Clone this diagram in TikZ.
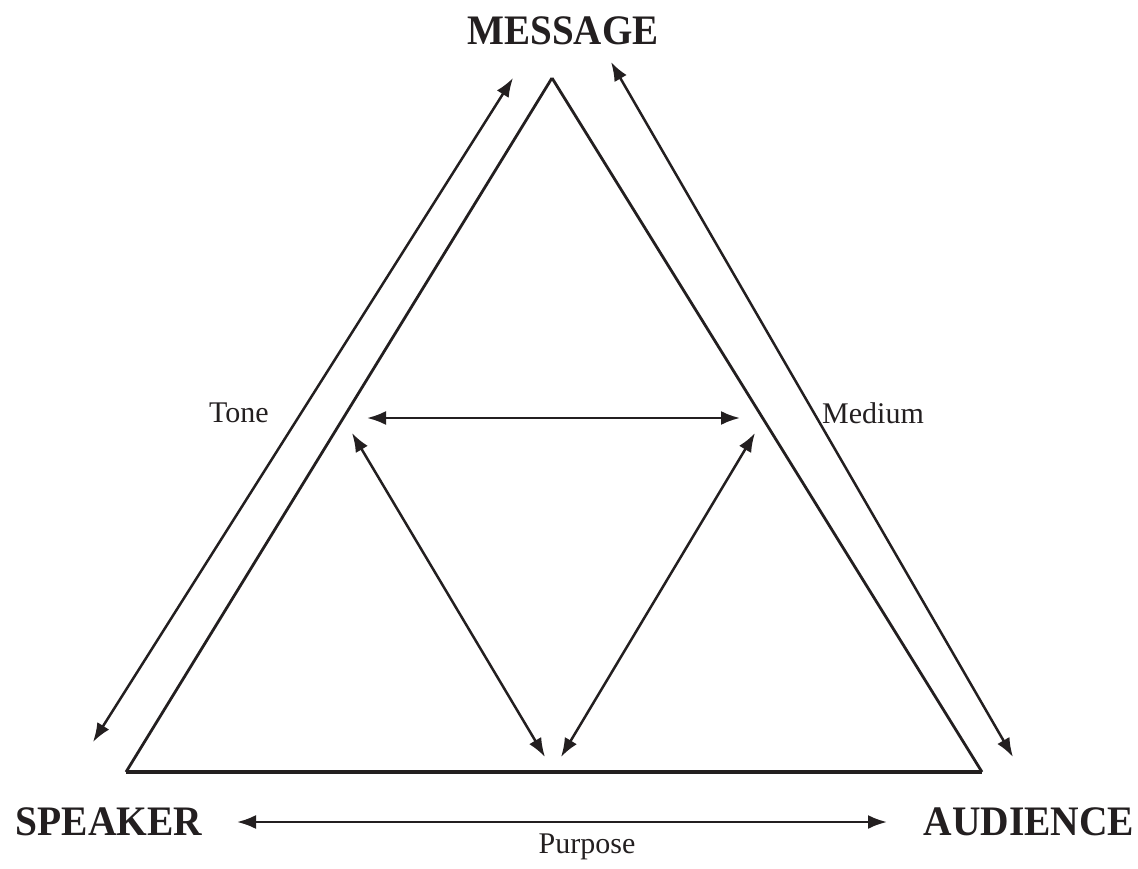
\documentclass[tikz,border=0pt]{standalone}
\usepackage{fontspec}
\setmainfont{Liberation Serif}
\usetikzlibrary{arrows.meta}
\definecolor{ink}{HTML}{231F20}
\begin{document}
\begin{tikzpicture}[x=1pt,y=-1pt,
  tri/.style={draw=ink,line width=2.8pt,line join=miter},
  dbl/.style={draw=ink,line width=2.5pt,{Latex[length=19pt,width=14pt]}-{Latex[length=19pt,width=14pt]}},
  big/.style={text=ink,inner sep=0pt,anchor=base,font=\bfseries\fontsize{42}{48}\selectfont},
  lbl/.style={text=ink,inner sep=0pt,anchor=base,font=\fontsize{30}{36}\selectfont}]
\useasboundingbox (0,0) rectangle (1138,869);
% triangle corners
\coordinate (A) at (552,78);
\coordinate (B) at (126,772);
\coordinate (C) at (982,772);
\draw[tri] (A) -- (B);
\draw[tri] (A) -- (C);
\draw[draw=ink,line width=3.6pt] (B) -- (C);
% arrow end points
\coordinate (l1) at (93,742);
\coordinate (l2) at (513,78);
\coordinate (r1) at (611,62);
\coordinate (r2) at (1013,757);
\coordinate (h1) at (367,418);
\coordinate (h2) at (740,418);
\coordinate (d1) at (352,433);
\coordinate (d2) at (545,757);
\coordinate (e1) at (755,433);
\coordinate (e2) at (561,757);
\coordinate (p1) at (237,822);
\coordinate (p2) at (887,822);
\draw[dbl] (l1) -- (l2);
\draw[dbl] (r1) -- (r2);
\draw[dbl] (h1) -- (h2);
\draw[dbl] (d1) -- (d2);
\draw[dbl] (e1) -- (e2);
\draw[dbl] (p1) -- (p2);
% labels
\node[big] (msg) at (563,45) {\scalebox{0.93}[1]{MESSAGE}};
\node[big] (spk) at (109,835) {\scalebox{0.94}[1]{SPEAKER}};
\node[big] (aud) at (1029,835) {\scalebox{0.94}[1]{AUDIENCE}};
\node[lbl] (tone) at (239,422) {Tone};
\node[lbl] (med) at (873,423) {Medium};
\node[lbl] (pur) at (587,853) {Purpose};
\end{tikzpicture}
\end{document}
